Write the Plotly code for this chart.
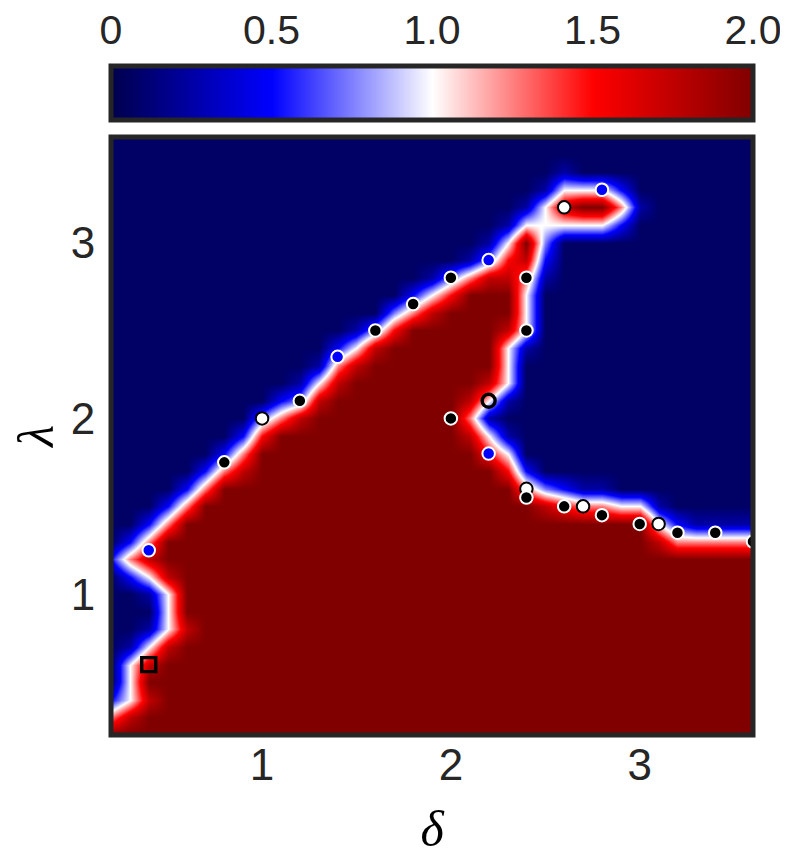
import plotly.graph_objects as go

# grid coordinates
delta_grid = [0.2, 0.3, 0.4, 0.5, 0.6, 0.7, 0.8, 0.9, 1.0, 1.1, 1.2, 1.3, 1.4, 1.5, 1.6, 1.7,
              1.8, 1.9, 2.0, 2.1, 2.2, 2.3, 2.4, 2.5, 2.6, 2.7, 2.8, 2.9, 3.0, 3.1, 3.2, 3.3,
              3.4, 3.5, 3.6]
lambda_grid = [0.2, 0.3, 0.4, 0.5, 0.6, 0.7, 0.8, 0.9, 1.0, 1.1, 1.2, 1.3, 1.4, 1.5, 1.6, 1.7,
               1.8, 1.9, 2.0, 2.1, 2.2, 2.3, 2.4, 2.5, 2.6, 2.7, 2.8, 2.9, 3.0, 3.1, 3.2, 3.3,
               3.4, 3.5, 3.6]

# field levels, rows from lambda=3.6 (top) down to 0.2
level_value = {'0': 0.07, '1': 0.25, '2': 0.5, '3': 0.75, '4': 1.0,
               '5': 1.25, '6': 1.5, '7': 1.75, '8': 2.0}
rows_top_down = [
    "0" * 35,                                         # 3.6
    "0" * 35,                                         # 3.5
    "0" * 24 + "1" + "0" * 10,                        # 3.4
    "0" * 23 + "14442" + "0" * 7,                     # 3.3
    "0" * 22 + "1478851" + "0" * 6,                   # 3.2
    "0" * 21 + "1444442" + "0" * 7,                   # 3.1
    "0" * 20 + "1483" + "0" * 11,                     # 3.0
    "0" * 19 + "13672" + "0" * 11,                    # 2.9
    "0" * 17 + "1357751" + "0" * 11,                  # 2.8
    "0" * 16 + "246888" + "4" + "0" * 12,             # 2.7
    "0" * 15 + "357" + "8888" + "4" + "0" * 12,       # 2.6
    "0" * 13 + "136" + "8" * 5 + "74" + "0" * 12,     # 2.5
    "0" * 12 + "247" + "8" * 6 + "41" + "0" * 12,     # 2.4
    "0" * 11 + "157" + "8" * 7 + "4" + "0" * 13,      # 2.3
    "0" * 10 + "147" + "8" * 7 + "74" + "0" * 13,     # 2.2
    "0" * 9 + "237" + "8" * 7 + "741" + "0" * 13,     # 2.1
    "0" * 8 + "357" + "8" * 8 + "51" + "0" * 14,      # 2.0
    "0" * 7 + "26" + "8" * 10 + "741" + "0" * 13,     # 1.9
    "0" * 6 + "25" + "8" * 12 + "64" + "0" * 13,      # 1.8
    "0" * 5 + "257" + "8" * 13 + "62" + "0" * 12,     # 1.7
    "0" * 4 + "25" + "8" * 16 + "53211" + "0" * 8,    # 1.6
    "0" * 3 + "25" + "8" * 18 + "7655441" + "0" * 5,  # 1.5
    "00" + "25" + "8" * 25 + "42" + "1111",           # 1.4
    "0" + "25" + "8" * 26 + "7" + "55555",            # 1.3
    "257" + "8" * 32,                                 # 1.2
    "0247" + "8" * 31,                                # 1.1
    "0014" + "8" * 31,                                # 1.0
    "0004" + "8" * 31,                                # 0.9
    "0014" + "7" + "8" * 30,                          # 0.8
    "0147" + "8" * 31,                                # 0.7
    "047" + "8" * 32,                                 # 0.6
    "048" + "8" * 32,                                 # 0.5
    "247" + "8" * 32,                                 # 0.4
    "57" + "8" * 33,                                  # 0.3
    "8" * 35,                                         # 0.2
]
z = [[level_value[c] for c in row] for row in reversed(rows_top_down)]

# markers
black_x = [0.8, 1.2, 1.6, 1.8, 2.0, 2.4, 2.4, 2.0, 2.4, 2.6, 2.8, 3.0, 3.2, 3.4, 3.6]
black_y = [1.75, 2.1, 2.5, 2.65, 2.8, 2.8, 2.5, 2.0, 1.55, 1.5, 1.45, 1.4, 1.35, 1.35, 1.3]
white_x = [1.0, 2.6, 2.4, 2.7, 3.1]
white_y = [2.0, 3.2, 1.6, 1.5, 1.4]
blue_x = [0.4, 1.4, 2.2, 2.8, 2.2]
blue_y = [1.25, 2.35, 2.9, 3.3, 1.8]
ring_x = [2.2]
ring_y = [2.1]
square_x = [0.4]
square_y = [0.6]

# colorbar
cbar_values = [0.0, 2.0]
cbar_ticks = [0, 0.5, 1.0, 1.5, 2.0]
cbar_ticktext = ["0", "0.5", "1.0", "1.5", "2.0"]
axis_ticks = [1, 2, 3]

seismic = [[0.0, "rgb(0,0,76)"], [0.25, "rgb(0,0,255)"], [0.5, "rgb(255,255,255)"],
           [0.75, "rgb(255,0,0)"], [1.0, "rgb(128,0,0)"]]

TXT = "#262626"
FONT = "Liberation Sans, Arial, sans-serif"

fig = go.Figure()
fig.add_trace(go.Heatmap(x=delta_grid, y=lambda_grid, z=z, colorscale=seismic,
                         zmin=0, zmax=2, zsmooth="best", showscale=False,
                         xaxis="x", yaxis="y", hoverinfo="skip"))
fig.add_trace(go.Heatmap(x=cbar_values, y=[0, 1], z=[cbar_values, cbar_values],
                         colorscale=seismic, zmin=0, zmax=2, zsmooth="best",
                         showscale=False, xaxis="x2", yaxis="y2", hoverinfo="skip"))

MS = 12.5
LW = 2.0
fig.add_trace(go.Scatter(x=white_x, y=white_y, mode="markers",
                         marker=dict(size=MS, color="white", line=dict(color="black", width=LW)),
                         xaxis="x", yaxis="y", showlegend=False))
fig.add_trace(go.Scatter(x=black_x, y=black_y, mode="markers",
                         marker=dict(size=MS, color="black", line=dict(color="white", width=LW)),
                         xaxis="x", yaxis="y", showlegend=False))
fig.add_trace(go.Scatter(x=blue_x, y=blue_y, mode="markers",
                         marker=dict(size=MS, color="#0000ff", line=dict(color="white", width=LW)),
                         xaxis="x", yaxis="y", showlegend=False))
fig.add_trace(go.Scatter(x=ring_x, y=ring_y, mode="markers",
                         marker=dict(size=13, symbol="circle-open", color="black",
                                     line=dict(color="black", width=3.4)),
                         xaxis="x", yaxis="y", showlegend=False))
fig.add_trace(go.Scatter(x=square_x, y=square_y, mode="markers",
                         marker=dict(size=14, symbol="square-open", color="black",
                                     line=dict(color="black", width=3.4)),
                         xaxis="x", yaxis="y", showlegend=False))

frame = dict(color=TXT, width=5)
fig.add_shape(type="rect", xref="x domain", yref="y domain", x0=0, x1=1, y0=0, y1=1,
              line=frame, layer="above")
fig.add_shape(type="rect", xref="x2 domain", yref="y2 domain", x0=0, x1=1, y0=0, y1=1,
              line=frame, layer="above")

tick_font = dict(family=FONT, size=44, color=TXT)
cbar_font = dict(family=FONT, size=41, color=TXT)
title_font = dict(family="Liberation Serif, serif", size=50, color="black", style="italic")
# page is offset by the default 8px body margin; figure is sized to fit the window
fig.update_layout(
    width=780, height=853,
    margin=dict(l=103, r=35, t=58, b=126),
    paper_bgcolor="white", plot_bgcolor="white",
    showlegend=False,
    xaxis=dict(domain=[0, 1], range=[0.2, 3.6], tickvals=axis_ticks, automargin=False,
               ticks="", showgrid=False, zeroline=False, showline=False, tickfont=tick_font,
               title=dict(text="δ", standoff=22, font=title_font),
               anchor="y"),
    yaxis=dict(domain=[0, 0.8939], range=[0.2, 3.6], tickvals=axis_ticks, automargin=False,
               ticks="outside", ticklen=6, tickcolor="rgba(0,0,0,0)",
               showgrid=False, zeroline=False, showline=False, tickfont=tick_font,
               title=dict(text="λ", standoff=10, font=title_font),
               anchor="x"),
    xaxis2=dict(domain=[0, 1], range=[0, 2], tickvals=cbar_ticks, ticktext=cbar_ticktext,
                side="top", ticks="outside", ticklen=5, tickcolor="rgba(0,0,0,0)", automargin=False,
                showgrid=False, zeroline=False, showline=False, tickfont=cbar_font,
                anchor="y2"),
    yaxis2=dict(domain=[0.9193, 1.0], range=[0, 1], showticklabels=False, automargin=False,
                showgrid=False, zeroline=False, showline=False, ticks="", anchor="x2"),
)

fig.write_html("out.html")
